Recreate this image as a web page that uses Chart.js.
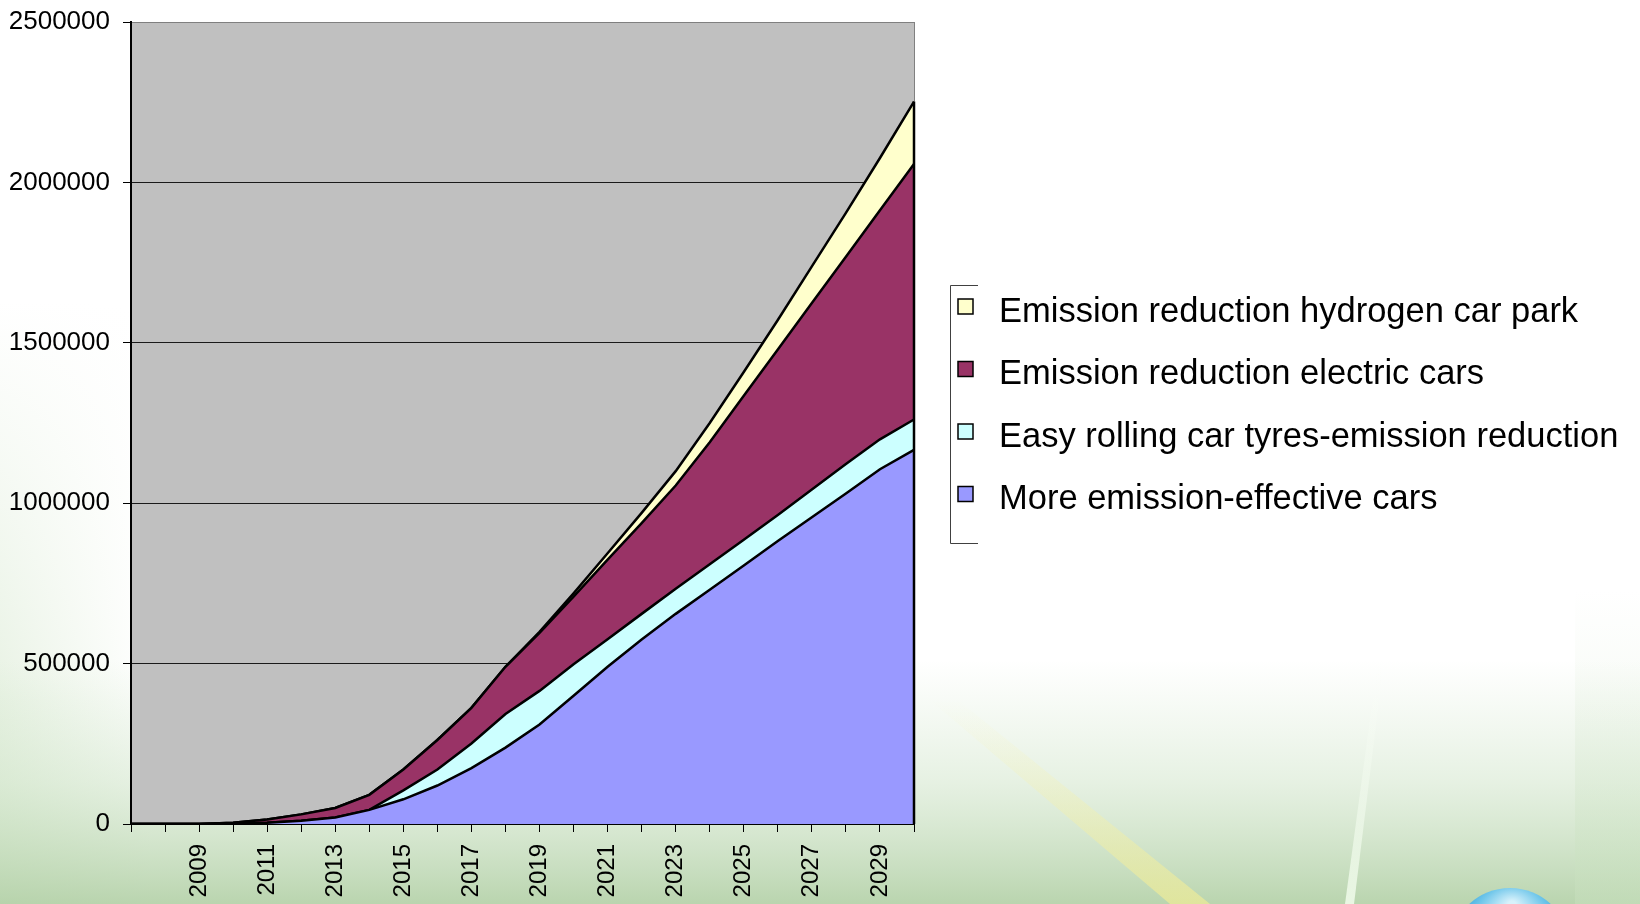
<!DOCTYPE html>
<html>
<head>
<meta charset="utf-8">
<script src="https://cdn.jsdelivr.net/npm/chart.js@4.4.1/dist/chart.umd.min.js"></script>
<style>
  html, body { margin: 0; padding: 0; background: #ffffff; }
  #wrap { width: 1640px; height: 904px; position: relative; }
</style>
</head>
<body>
<div id="wrap"><canvas id="chart" width="1640" height="904"></canvas></div>
<script>
// Years on the category axis (one point per year)
const years = [2007, 2008, 2009, 2010, 2011, 2012, 2013, 2014, 2015, 2016, 2017, 2018,
               2019, 2020, 2021, 2022, 2023, 2024, 2025, 2026, 2027, 2028, 2029, 2030];
// Years that carry a printed label under the axis
const labelledYears = [2009, 2011, 2013, 2015, 2017, 2019, 2021, 2023, 2025, 2027, 2029];

// Emission reduction per measure (stacked from the bottom up)
const effectiveCars = [0, 0, 0, 1000, 4000, 10000, 20000, 44000, 77000, 120000, 174000, 238000,
                       310000, 400000, 490000, 575000, 655000, 730000, 806000, 882000, 956000, 1030000, 1106000, 1166000];
const rollingTyres  = [0, 0, 0, 0, 0, 0, 0, 0, 28000, 50000, 77000, 105000,
                       105000, 98000, 86000, 80000, 78000, 80000, 80000, 81000, 87000, 92000, 93000, 95000];
const electricCars  = [0, 0, 0, 3000, 10000, 20000, 30000, 47000, 65000, 92000, 111000, 147000,
                       181000, 211000, 248000, 283000, 322000, 380000, 449000, 516000, 581000, 646000, 714000, 796000];
const hydrogenCars  = [0, 0, 0, 0, 0, 0, 0, 0, 0, 0, 0, 0,
                       3000, 10000, 20000, 32000, 45000, 60000, 74000, 92000, 114000, 137000, 163000, 195000];

const seriesNames = [
  'More emission-effective cars',
  'Easy rolling car tyres-emission reduction',
  'Emission reduction electric cars',
  'Emission reduction hydrogen car park'
];
const seriesColors = ['#9999FF', '#CCFFFF', '#993366', '#FFFFCC'];
const yTicks = [0, 500000, 1000000, 1500000, 2000000, 2500000];

const FONT = '"Liberation Sans", Arial, sans-serif';

// Slide backdrop plus the grey plot area
const backdrop = {
  id: 'backdrop',
  beforeDraw(chart) {
    const ctx = chart.ctx;
    const W = chart.width, H = chart.height;
    ctx.save();
    ctx.fillStyle = '#ffffff';
    ctx.fillRect(0, 0, W, H);

    // faint green haze down the left edge, fading in from the top
    let g = ctx.createLinearGradient(0, 0, 150, 0);
    g.addColorStop(0, 'rgba(214,232,206,0.55)');
    g.addColorStop(1, 'rgba(214,232,206,0)');
    ctx.fillStyle = g;
    for (let y = 300; y < H; y += 4) {
      ctx.globalAlpha = Math.min(1, (y - 300) / 400);
      ctx.fillRect(0, y, 150, 4);
    }
    ctx.globalAlpha = 1;

    // soft green wash rising from the bottom edge
    g = ctx.createLinearGradient(0, 660, 0, H);
    g.addColorStop(0, 'rgba(205,228,198,0)');
    g.addColorStop(0.5, 'rgba(200,224,192,0.45)');
    g.addColorStop(1, 'rgba(178,208,166,0.9)');
    ctx.fillStyle = g;
    ctx.fillRect(0, 660, W, H - 660);

    // faint green band on the far right
    g = ctx.createLinearGradient(0, 590, 0, H);
    g.addColorStop(0, 'rgba(220,236,214,0)');
    g.addColorStop(1, 'rgba(200,224,190,0.5)');
    ctx.fillStyle = g;
    ctx.fillRect(1575, 590, W - 1575, H - 590);

    // pale yellow diagonal streak
    ctx.beginPath();
    ctx.moveTo(930, 700);
    ctx.lineTo(958, 700);
    ctx.lineTo(1210, H);
    ctx.lineTo(1170, H);
    ctx.closePath();
    g = ctx.createLinearGradient(0, 700, 0, H);
    g.addColorStop(0, 'rgba(250,245,190,0)');
    g.addColorStop(1, 'rgba(240,236,150,0.7)');
    ctx.fillStyle = g;
    ctx.fill();

    // thin light streak
    ctx.beginPath();
    ctx.moveTo(1378, 660);
    ctx.lineTo(1384, 660);
    ctx.lineTo(1354, H);
    ctx.lineTo(1345, H);
    ctx.closePath();
    g = ctx.createLinearGradient(0, 660, 0, H);
    g.addColorStop(0, 'rgba(250,255,248,0)');
    g.addColorStop(1, 'rgba(245,255,240,0.8)');
    ctx.fillStyle = g;
    ctx.fill();

    // globe peeking in at the lower right
    const rg = ctx.createRadialGradient(1512, 905, 4, 1512, 935, 60);
    rg.addColorStop(0, '#d8f2fb');
    rg.addColorStop(0.6, '#6fc6ea');
    rg.addColorStop(1, '#3aa7dc');
    ctx.beginPath();
    ctx.arc(1510, 948, 60, 0, Math.PI * 2);
    ctx.fillStyle = rg;
    ctx.fill();

    // grey plot area
    const a = chart.chartArea;
    ctx.fillStyle = '#C0C0C0';
    ctx.fillRect(a.left, a.top, a.right - a.left, a.bottom - a.top);
    ctx.restore();
  }
};

// Plot frame on the right and the closing edge of the stacked areas
const frame = {
  id: 'frame',
  afterDatasetsDraw(chart) {
    const ctx = chart.ctx;
    const a = chart.chartArea;
    const y = chart.scales.y;
    const last = years.length - 1;
    const total = effectiveCars[last] + rollingTyres[last] + electricCars[last] + hydrogenCars[last];
    const yTop = y.getPixelForValue(total);
    ctx.save();
    ctx.strokeStyle = '#808080';
    ctx.lineWidth = 1;
    ctx.beginPath();
    ctx.moveTo(a.right + 0.5, a.top);
    ctx.lineTo(a.right + 0.5, yTop);
    ctx.stroke();
    ctx.strokeStyle = '#000000';
    ctx.lineWidth = 2.5;
    ctx.beginPath();
    ctx.moveTo(a.right, yTop);
    ctx.lineTo(a.right, a.bottom);
    ctx.stroke();
    ctx.restore();
  }
};

// Legend panel to the right of the plot, top series first
const sideLegend = {
  id: 'sideLegend',
  afterDraw(chart) {
    const ctx = chart.ctx;
    const x0 = 950, yTop = 285, yBot = 543;
    const rowY = [311, 373.5, 436, 498.5];
    ctx.save();
    ctx.strokeStyle = '#404040';
    ctx.lineWidth = 1;
    ctx.beginPath();
    ctx.moveTo(978, yTop + 0.5);
    ctx.lineTo(x0 + 0.5, yTop + 0.5);
    ctx.lineTo(x0 + 0.5, yBot + 0.5);
    ctx.lineTo(978, yBot + 0.5);
    ctx.stroke();

    ctx.font = '34.5px ' + FONT;
    ctx.textBaseline = 'middle';
    ctx.textAlign = 'left';
    const ds = chart.data.datasets;
    for (let i = 0; i < ds.length; i++) {
      const d = ds[ds.length - 1 - i];
      const cy = rowY[i];
      ctx.fillStyle = d.backgroundColor;
      ctx.fillRect(958, cy - 12, 15, 15);
      ctx.strokeStyle = '#000000';
      ctx.lineWidth = 1.5;
      ctx.strokeRect(958, cy - 12, 15, 15);
      ctx.fillStyle = '#000000';
      ctx.fillText(d.label, 999, cy + 1);
    }
    ctx.restore();
  }
};

const seriesData = [effectiveCars, rollingTyres, electricCars, hydrogenCars];
const datasets = seriesData.map((values, i) => ({
  label: seriesNames[i],
  data: values,
  backgroundColor: seriesColors[i],
  borderColor: '#000000',
  borderWidth: 2.5,
  fill: i === 0 ? 'origin' : '-1',
  pointRadius: 0,
  pointHoverRadius: 0,
  tension: 0
}));

new Chart(document.getElementById('chart'), {
  type: 'line',
  data: { labels: years.map(String), datasets },
  options: {
    responsive: false,
    animation: false,
    events: [],
    layout: { padding: { top: 22, right: 726, left: 0, bottom: 0 } },
    plugins: { legend: { display: false }, tooltip: { enabled: false } },
    scales: {
      x: {
        offset: false,
        grid: { display: true, drawOnChartArea: false, drawTicks: true, tickLength: 8, color: '#000000', tickColor: '#000000', offset: false },
        border: { display: true, color: '#000000', width: 2 },
        ticks: {
          autoSkip: false,
          minRotation: 90,
          maxRotation: 90,
          padding: 12,
          color: '#000000',
          font: { family: FONT, size: 24 },
          callback: (v, i) => labelledYears.includes(years[i]) ? String(years[i]) : ''
        },
        afterFit(scale) {
          scale.height = 80;
          scale.paddingLeft = 0;
          scale.paddingRight = 0;
        }
      },
      y: {
        stacked: true,
        min: yTicks[0],
        max: yTicks[yTicks.length - 1],
        afterBuildTicks(scale) { scale.ticks = yTicks.map(v => ({ value: v })); },
        grid: {
          color: ctx => (ctx.tick && ctx.tick.value === yTicks[yTicks.length - 1]) ? '#808080' : '#1a1a1a',
          tickColor: '#000000',
          lineWidth: 1,
          tickLength: 8
        },
        border: { display: true, color: '#000000', width: 2 },
        ticks: {
          padding: 13,
          color: '#000000',
          font: { family: FONT, size: 26 },
          callback: v => String(v)
        },
        afterFit(scale) {
          scale.width = 131;
          scale.paddingTop = 0;
          scale.paddingBottom = 0;
        }
      }
    }
  },
  plugins: [backdrop, frame, sideLegend]
});
</script>
</body>
</html>
